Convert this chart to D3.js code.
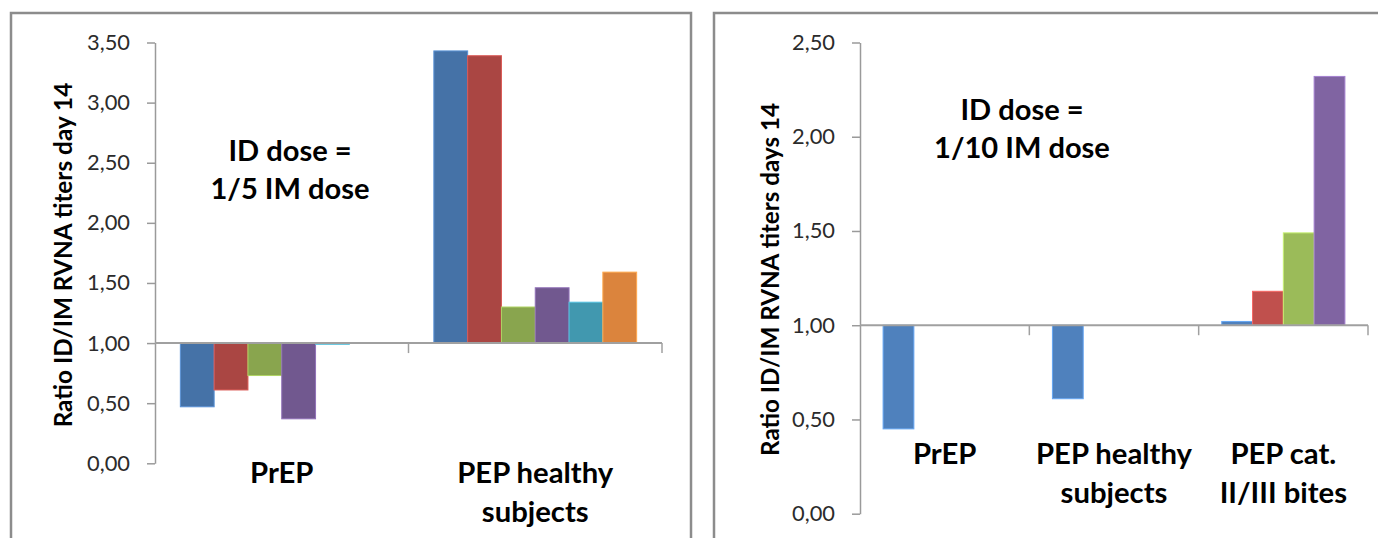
<!DOCTYPE html>
<html>
<head>
<meta charset="utf-8">
<script src="https://cdn.jsdelivr.net/npm/d3@7"></script>
<style>
  html, body { margin: 0; padding: 0; background: #fff; }
  svg { display: block; }
</style>
</head>
<body>
<svg id="chart" width="1378" height="538"></svg>
<script>
// ---- Left panel: ID dose = 1/5 IM dose ----
const leftCategories = ["PrEP", "PEP healthy subjects"];
const leftCategoryLines = [["PrEP"], ["PEP healthy", "subjects"]];
const leftSeries = [
  [0.47, 3.43],
  [0.61, 3.39],
  [0.73, 1.30],
  [0.37, 1.46],
  [0.99, 1.34],
  [null, 1.59]
];
const leftColors = ["#4572A7", "#AA4643", "#89A54E", "#71588F", "#4198AF", "#DB843D"];
const leftTicks = [0, 0.5, 1, 1.5, 2, 2.5, 3, 3.5];
const leftTitle = "Ratio ID/IM RVNA titers day 14";
const leftNote = ["ID dose =", "1/5 IM dose"];

// ---- Right panel: ID dose = 1/10 IM dose ----
const rightCategories = ["PrEP", "PEP healthy subjects", "PEP cat. II/III bites"];
const rightCategoryLines = [["PrEP"], ["PEP healthy", "subjects"], ["PEP cat.", "II/III bites"]];
const rightSeries = [
  [0.45, 0.61, 1.02],
  [null, null, 1.18],
  [null, null, 1.49],
  [null, null, 2.32]
];
const rightColors = ["#4F81BD", "#C0504D", "#9BBB59", "#8064A2"];
const rightTicks = [0, 0.5, 1, 1.5, 2, 2.5];
const rightTitle = "Ratio ID/IM RVNA titers days 14";
const rightNote = ["ID dose =", "1/10 IM dose"];

const FONT = "Lato, 'Open Sans', 'DejaVu Sans', sans-serif";
const svg = d3.select("#chart");
const locale = d3.formatLocale({ decimal: ",", thousands: ".", grouping: [3], currency: ["", ""] });
const fmt = locale.format(".2f");

// font size that gives a string the requested rendered width
function fitSize(text, weight, width) {
  const t = svg.append("text").attr("font-family", FONT).attr("font-weight", weight)
    .attr("font-size", 100).text(text);
  const w = t.node().getComputedTextLength();
  t.remove();
  return 100 * width / w;
}

const tickSize = fitSize("2,50", 400, 43);
const titleSizeL = fitSize(leftTitle, 700, 345);
const titleSizeR = fitSize(rightTitle, 700, 353);
const noteSize = fitSize("1/5 IM dose", 700, 159);
const catSize = fitSize("PEP healthy", 700, 156);

function panel(cfg) {
  const g = svg.append("g");

  // chart frame
  g.append("rect")
    .attr("x", cfg.frame[0]).attr("y", cfg.frame[1])
    .attr("width", cfg.frame[2]).attr("height", cfg.frame[3])
    .attr("fill", "none").attr("stroke", "#8c8c8c").attr("stroke-width", 2.5);

  const y = d3.scaleLinear().domain([0, d3.max(cfg.ticks)]).range([cfg.yBottom, cfg.yTop]);
  const x0 = d3.scaleBand().domain(cfg.categories).range([cfg.xLeft, cfg.xRight])
    .paddingInner(0).paddingOuter(0);
  const x1 = d3.scaleBand().domain(d3.range(cfg.series.length))
    .range([0, x0.bandwidth()]).paddingInner(0).paddingOuter(0.75);

  // value axis
  const yAxis = g.append("g")
    .attr("transform", `translate(${cfg.xLeft},0)`)
    .call(d3.axisLeft(y).tickValues(cfg.ticks).tickFormat(fmt)
      .tickSize(8).tickSizeOuter(0).tickPadding(17));
  yAxis.select(".domain").attr("stroke", "#9a9a9a").attr("stroke-width", 1.5);
  yAxis.selectAll(".tick line").attr("stroke", "#9a9a9a").attr("stroke-width", 1.5);
  yAxis.selectAll(".tick text")
    .attr("font-family", FONT).attr("font-size", tickSize).attr("fill", "#2b2b2b");

  // bars grow from the 1,00 crossing line
  const base = y(1);
  cfg.series.forEach((vals, si) => {
    const rows = cfg.categories.map((c, ci) => ({ c, v: vals[ci] })).filter(d => d.v != null);
    g.append("g").selectAll("rect").data(rows).join("rect")
      .attr("x", d => x0(d.c) + x1(si))
      .attr("width", x1.bandwidth())
      .attr("y", d => Math.min(y(d.v), base))
      .attr("height", d => Math.abs(y(d.v) - base))
      .attr("fill", cfg.colors[si])
      .attr("stroke", d3.color(cfg.colors[si]).brighter(0.7))
      .attr("stroke-width", 1);
  });

  // category axis crossing at 1,00
  const xa = g.append("g");
  xa.append("line")
    .attr("x1", cfg.xLeft).attr("x2", cfg.xRight)
    .attr("y1", base).attr("y2", base)
    .attr("stroke", "#a0a0a0").attr("stroke-width", 2);
  xa.selectAll("line.tk").data(cfg.categories).join("line").attr("class", "tk")
    .attr("x1", d => x0(d) + x0.bandwidth()).attr("x2", d => x0(d) + x0.bandwidth())
    .attr("y1", base).attr("y2", base + 10)
    .attr("stroke", "#a0a0a0").attr("stroke-width", 1.5);

  // category labels
  cfg.categoryLines.forEach((lines, ci) => {
    lines.forEach((ln, li) => {
      g.append("text")
        .attr("x", x0(cfg.categories[ci]) + x0.bandwidth() / 2)
        .attr("y", cfg.catBaseline + li * cfg.catLineGap)
        .attr("text-anchor", "middle")
        .attr("font-family", FONT).attr("font-weight", 700).attr("font-size", catSize)
        .attr("fill", "#000").text(ln);
    });
  });

  // axis title
  g.append("text")
    .attr("transform", `translate(${cfg.titleX},${cfg.titleY}) rotate(-90)`)
    .attr("text-anchor", "middle").attr("dominant-baseline", "central")
    .attr("font-family", FONT).attr("font-weight", 700).attr("font-size", cfg.titleSize)
    .attr("fill", "#000").text(cfg.title);

  // dose note
  cfg.note.forEach((ln, i) => {
    g.append("text")
      .attr("x", cfg.noteX).attr("y", cfg.noteBaseline + i * cfg.noteGap)
      .attr("text-anchor", "middle")
      .attr("font-family", FONT).attr("font-weight", 700).attr("font-size", noteSize)
      .attr("fill", "#000").text(ln);
  });
}

panel({
  frame: [11, 13, 680, 600],
  categories: leftCategories, categoryLines: leftCategoryLines,
  series: leftSeries, colors: leftColors, ticks: leftTicks,
  xLeft: 155, xRight: 662, yTop: 42.5, yBottom: 463.3,
  catBaseline: 483, catLineGap: 38.5,
  title: leftTitle, titleSize: titleSizeL, titleX: 62, titleY: 255,
  note: leftNote, noteX: 290, noteBaseline: 160.5, noteGap: 38.5
});

panel({
  frame: [714, 13, 700, 600],
  categories: rightCategories, categoryLines: rightCategoryLines,
  series: rightSeries, colors: rightColors, ticks: rightTicks,
  xLeft: 860, xRight: 1368, yTop: 42.5, yBottom: 513.7,
  catBaseline: 464, catLineGap: 38.5,
  title: rightTitle, titleSize: titleSizeR, titleX: 769, titleY: 279.5,
  note: rightNote, noteX: 1022, noteBaseline: 120, noteGap: 38
});
</script>
</body>
</html>
